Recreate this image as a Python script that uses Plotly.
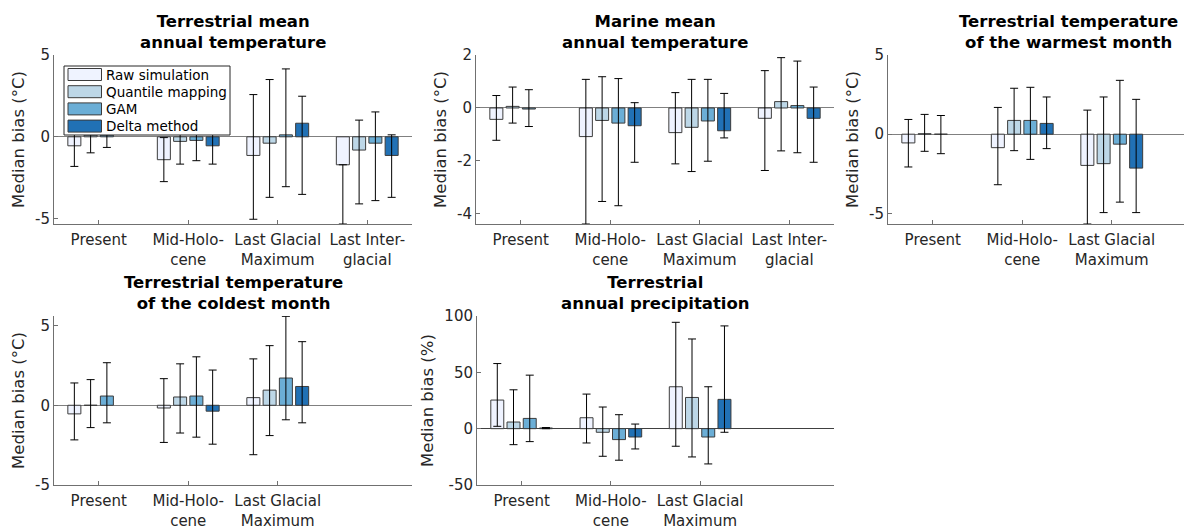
import plotly.graph_objects as go

# Bias-correction methods and their bar colours
methods = ["Raw simulation", "Quantile mapping", "GAM", "Delta method"]
colors = ["#eff3ff", "#bdd7e7", "#6baed6", "#2171b5"]

periods4 = ["Present", "Mid-Holo-<br>cene", "Last Glacial<br>Maximum", "Last Inter-<br>glacial"]
periods3 = periods4[:3]

# Terrestrial mean annual temperature (rows: methods, cols: periods)
tmean_med = [[-0.55, -1.40, -1.14, -1.71],
             [0.10, -0.28, -0.39, -0.81],
             [0.10, -0.22, 0.12, -0.39],
             [None, -0.55, 0.83, -1.14]]
tmean_lo = [[-1.81, -2.74, -5.04, -5.33],
            [-0.98, -1.67, -3.70, -4.10],
            [-0.65, -1.46, -3.05, -3.90],
            [None, -1.67, -3.52, -3.70]]
tmean_hi = [[0.90, -0.05, 2.58, -1.71],
            [1.10, 1.00, 3.50, 1.02],
            [1.00, 1.20, 4.15, 1.52],
            [None, 0.70, 2.48, 0.12]]

# Marine mean annual temperature
marine_med = [[-0.43, -1.08, -0.93, -0.39],
              [0.06, -0.47, -0.73, 0.24],
              [-0.04, -0.57, -0.49, 0.09],
              [None, -0.67, -0.86, -0.39]]
marine_lo = [[-1.22, -4.38, -2.11, -2.36],
             [-0.57, -3.53, -2.40, -1.62],
             [-0.70, -3.69, -2.01, -1.69],
             [None, -2.05, -1.13, -2.05]]
marine_hi = [[0.47, 1.08, 0.58, 1.41],
             [0.79, 1.18, 1.08, 1.90],
             [0.69, 1.11, 1.08, 1.77],
             [None, 0.20, 0.55, 0.79]]

# Terrestrial temperature of the warmest month
twarm_med = [[-0.55, -0.85, -1.97],
             [0.03, 0.87, -1.86],
             [0.00, 0.87, -0.63],
             [None, 0.68, -2.14]]
twarm_lo = [[-2.07, -3.19, -5.67],
            [-1.08, -1.04, -4.95],
            [-1.23, -1.59, -4.29],
            [None, -0.91, -4.95]]
twarm_hi = [[0.93, 1.69, 1.52],
            [1.25, 2.90, 2.35],
            [1.18, 2.96, 3.40],
            [None, 2.35, 2.20]]

# Terrestrial temperature of the coldest month
tcold_med = [[-0.54, -0.17, 0.48],
             [0.00, 0.52, 0.95],
             [0.58, 0.58, 1.71],
             [None, -0.37, 1.18]]
tcold_lo = [[-2.17, -2.33, -3.10],
            [-1.40, -1.74, -1.90],
            [-1.10, -2.00, -0.91],
            [None, -2.44, -1.10]]
tcold_hi = [[1.40, 1.67, 2.91],
            [1.61, 2.60, 3.74],
            [2.67, 3.04, 5.58],
            [None, 2.21, 3.99]]

# Terrestrial annual precipitation (%)
precip_med = [[25.4, 9.7, 37.2],
              [5.9, -3.2, 27.7],
              [9.1, -9.7, -7.4],
              [0.6, -7.4, 26.0]]
precip_lo = [[2.1, -12.7, -15.6],
             [-14.2, -24.5, -25.1],
             [-11.5, -28.0, -31.3],
             [0.0, -18.0, -3.2]]
precip_hi = [[57.8, 30.7, 94.4],
             [34.5, 19.2, 79.6],
             [47.5, 12.4, 37.2],
             [1.0, 4.1, 91.2]]

W, H = 1184, 532
AX_COLOR = "#262626"
LINE_COLOR = "#707070"
EDGE = "#3c3c3c"
FONT = "DejaVu Sans"


def px_x(a, b):
    return [a / W, min(b / W, 1.0)]


def px_y(top, bottom):
    return [(H - bottom) / H, (H - top) / H]


panels = [
    dict(title="Terrestrial mean<br>annual temperature", ylabel="Median bias (°C)",
         labels=periods4, med=tmean_med, lo=tmean_lo, hi=tmean_hi,
         yrange=[-5.33, 5], yticks=[-5, 0, 5], dx=px_x(54, 412), dy=px_y(55, 224),
         xrange=[0.5, 4.5], zc="#808080"),
    dict(title="Marine mean<br>annual temperature", ylabel="Median bias (°C)",
         labels=periods4, med=marine_med, lo=marine_lo, hi=marine_hi,
         yrange=[-4.38, 2], yticks=[-4, -2, 0, 2], dx=px_x(476, 834), dy=px_y(55, 224),
         xrange=[0.5, 4.5], zc="#808080"),
    dict(title="Terrestrial temperature<br>of the warmest month", ylabel="Median bias (°C)",
         labels=periods3, med=twarm_med, lo=twarm_lo, hi=twarm_hi,
         yrange=[-5.67, 5], yticks=[-5, 0, 5], dx=px_x(888, 1184), dy=px_y(55, 224),
         xrange=[0.5, 0.5 + 296 / 89.5], zc="#808080", title_cx=1068),
    dict(title="Terrestrial temperature<br>of the coldest month", ylabel="Median bias (°C)",
         labels=periods3, med=tcold_med, lo=tcold_lo, hi=tcold_hi,
         yrange=[-5, 5.6], yticks=[-5, 0, 5], dx=px_x(54, 412), dy=px_y(316, 485),
         xrange=[0.5, 4.5], zc="#808080"),
    dict(title="Terrestrial<br>annual precipitation", ylabel="Median bias (%)",
         labels=periods3, med=precip_med, lo=precip_lo, hi=precip_hi,
         yrange=[-50, 100], yticks=[-50, 0, 50, 100], dx=px_x(477, 834), dy=px_y(316, 485),
         xrange=[0.5, 4.5], zc="#404040"),
]

fig = go.Figure()
layout = {}
annotations = []
shapes = []

for k, p in enumerate(panels):
    sfx = "" if k == 0 else str(k + 1)
    xs = list(range(1, len(p["labels"]) + 1))
    for m, name in enumerate(methods):
        med = p["med"][m]
        plus = [None if v is None else h - v for v, h in zip(med, p["hi"][m])]
        minus = [None if v is None else v - l for v, l in zip(med, p["lo"][m])]
        fig.add_trace(go.Bar(
            x=xs, y=med, name=name, xaxis="x" + sfx, yaxis="y" + sfx,
            marker=dict(color=colors[m], line=dict(color=EDGE, width=1)),
            error_y=dict(type="data", symmetric=False, array=plus, arrayminus=minus,
                         color="black", thickness=1, width=4),
            showlegend=False,
        ))
    layout["xaxis" + sfx] = dict(
        domain=p["dx"], range=p["xrange"], anchor="y" + sfx, automargin=False,
        tickmode="array", tickvals=xs, ticktext=p["labels"],
        ticks="inside", ticklen=4, tickcolor=LINE_COLOR, ticklabelstandoff=2,
        showline=True, linecolor=LINE_COLOR, linewidth=1,
        showgrid=False, zeroline=False,
        tickfont=dict(family=FONT, size=15, color=AX_COLOR),
    )
    layout["yaxis" + sfx] = dict(
        domain=p["dy"], range=p["yrange"], anchor="x" + sfx, automargin=False,
        tickmode="array", tickvals=p["yticks"],
        ticktext=[str(t) for t in p["yticks"]],
        ticks="inside", ticklen=4, tickcolor=LINE_COLOR,
        showline=True, linecolor=LINE_COLOR, linewidth=1,
        showgrid=False, zeroline=True, zerolinecolor=p["zc"], zerolinewidth=1,
        tickfont=dict(family=FONT, size=15, color=AX_COLOR),
        title=dict(text=p["ylabel"], standoff=6,
                   font=dict(family=FONT, size=16.5, color=AX_COLOR)),
    )
    cx = p.get("title_cx")
    tx = cx / W if cx else (p["dx"][0] + p["dx"][1]) / 2
    annotations.append(dict(
        text="<b>" + p["title"] + "</b>", xref="paper", yref="paper",
        x=tx, y=p["dy"][1], xanchor="center", yanchor="bottom", yshift=1,
        showarrow=False, font=dict(family=FONT, size=16.5, color="black"),
    ))

# Legend box in the first panel: white frame, colour swatches and method names
LEG_L, LEG_R, LEG_T, LEG_B = 64, 230, 66, 135
ROW0, ROW_STEP, SW_L, SW_R, SW_H, TXT_X = 74.5, 17.2, 68, 101.5, 12, 105
shapes.append(dict(type="rect", xref="paper", yref="paper", layer="above",
                   x0=LEG_L / W, x1=LEG_R / W, y0=(H - LEG_B) / H, y1=(H - LEG_T) / H,
                   fillcolor="white", line=dict(color=AX_COLOR, width=1)))
for m, name in enumerate(methods):
    yc = ROW0 + m * ROW_STEP
    shapes.append(dict(type="rect", xref="paper", yref="paper", layer="above",
                       x0=SW_L / W, x1=SW_R / W,
                       y0=(H - yc - SW_H / 2) / H, y1=(H - yc + SW_H / 2) / H,
                       fillcolor=colors[m], line=dict(color=EDGE, width=1)))
    annotations.append(dict(text=name, xref="paper", yref="paper",
                            x=TXT_X / W, y=(H - yc) / H, xanchor="left", yanchor="middle",
                            showarrow=False, borderpad=0,
                            font=dict(family=FONT, size=13.5, color="black")))

fig.update_layout(
    **layout,
    annotations=annotations,
    shapes=shapes,
    barmode="group", bargap=0.273, bargroupgap=0.2,
    width=W, height=H, autosize=False,
    margin=dict(l=0, r=0, t=0, b=0, autoexpand=False),
    paper_bgcolor="white", plot_bgcolor="white",
    font=dict(family=FONT, color=AX_COLOR),
    showlegend=False,
)

fig.write_html("out.html")
